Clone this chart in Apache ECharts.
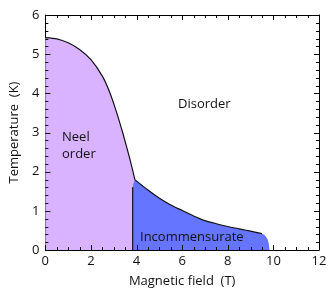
<!DOCTYPE html>
<html><head><meta charset="utf-8">
<script src="https://cdn.jsdelivr.net/npm/echarts@6/dist/echarts.min.js"></script>
<style>html,body{margin:0;padding:0;background:#fff}#c{width:331px;height:295px}</style>
</head><body><div id="c"></div>
<script>
// Neel order phase boundary (Magnetic field T, Temperature K)
const neelX = [0, 0.5, 1.0, 1.5, 2.0, 2.5, 2.8, 3.1, 3.4, 3.7, 3.93];
const neelT = [5.42, 5.39, 5.29, 5.12, 4.86, 4.44, 4.06, 3.56, 2.98, 2.34, 1.79];
// Incommensurate phase upper boundary
const incX = [3.93, 4.5, 5.0, 5.5, 6.0, 6.5, 7.0, 7.5, 8.0, 8.5, 9.0, 9.5];
const incT = [1.79, 1.53, 1.32, 1.15, 1.01, 0.87, 0.75, 0.67, 0.60, 0.54, 0.48, 0.42];
// rounded end of the incommensurate region
const cornerX = [9.5, 9.65, 9.75, 9.8, 9.83];
const cornerT = [0.42, 0.36, 0.27, 0.15, 0];
// vertical boundary Neel / incommensurate
const wallX = [3.83, 3.83];
const wallT = [0, 1.6];
// tick values (major and minor) for the framed axes
const xTicks = [0, 2, 4, 6, 8, 10, 12];
const yTicks = [0, 1, 2, 3, 4, 5, 6];
const xMinor = [0,0.5,1,1.5,2,2.5,3,3.5,4,4.5,5,5.5,6,6.5,7,7.5,8,8.5,9,9.5,10,10.5,11,11.5,12];
const yMinor = [0,0.2,0.4,0.6,0.8,1,1.2,1.4,1.6,1.8,2,2.2,2.4,2.6,2.8,3,3.2,3.4,3.6,3.8,4,4.2,4.4,4.6,4.8,5,5.2,5.4,5.6,5.8,6];

const zip = (a, b) => a.map((v, i) => [v, b[i]]);
const neelPts = zip(neelX, neelT);
const incPts = zip(incX, incT);
const bluePts = [[wallX[1], wallT[1]]].concat(incPts, zip(cornerX, cornerT).slice(1));

const FONT = 'Open Sans';
const K = '#000000';
const chart = echarts.init(document.getElementById('c'));

function frameAxis(position, max, interval, withLabel, name, nameGap) {
  const ax = {
    type: 'value', position: position, min: 0, max: max, interval: interval,
    axisLine: {show: true, onZero: false, lineStyle: {color: K}},
    axisTick: {show: false},
    minorTick: {show: false},
    splitLine: {show: false},
    axisLabel: withLabel ? {color: '#111', fontFamily: FONT, fontSize: 13,
      margin: (position === 'bottom') ? 5 : 6} : {show: false}
  };
  if (name) {
    ax.name = name; ax.nameLocation = 'middle'; ax.nameGap = nameGap;
    ax.nameTextStyle = {color: '#111', fontFamily: FONT, fontSize: 13};
  }
  return ax;
}

chart.setOption({
  animation: false,
  grid: {left: 43, right: 12, top: 15, bottom: 45},
  xAxis: [
    frameAxis('bottom', 12, 2, true, 'Magnetic field  (T)', 25),
    frameAxis('top', 12, 2, false)
  ],
  yAxis: [
    frameAxis('left', 6, 1, true, 'Temperature  (K)', 23),
    frameAxis('right', 6, 1, false)
  ],
  series: [
    {type: 'line', data: neelPts.concat([[wallX[0], 1.98]]).sort((a,b)=>a[0]-b[0]), showSymbol: false, smooth: 0.2,
      lineStyle: {width: 0}, areaStyle: {color: '#d9b3ff', opacity: 1}, z: 1},
    {type: 'line', data: bluePts, showSymbol: false, smooth: 0.2,
      lineStyle: {width: 0}, areaStyle: {color: '#6675ff', opacity: 1}, z: 1},
    {type: 'line', data: neelPts, showSymbol: false, smooth: 0.2,
      lineStyle: {color: '#111', width: 1.2}, z: 1},
    {type: 'line', data: incPts, showSymbol: false, smooth: 0.2,
      lineStyle: {color: '#111', width: 1.2}, z: 1},
    {type: 'line', data: zip(wallX, wallT), showSymbol: false,
      lineStyle: {color: '#111', width: 1.2}, z: 1},
    {type: 'custom', coordinateSystem: 'cartesian2d', xAxisIndex: 0, yAxisIndex: 0,
      data: [[0, 0]], clip: false, silent: true, z: 10,
      renderItem: function (params, api) {
        const cs = params.coordSys;
        const L = cs.x, T = cs.y, R = cs.x + cs.width, B = cs.y + cs.height;
        const children = [];
        const seg = (x1, y1, x2, y2) => children.push({type: 'line',
          shape: {x1: x1, y1: y1, x2: x2, y2: y2}, style: {stroke: K, lineWidth: 1}});
        xMinor.forEach(v => {
          const px = Math.round(api.coord([v, 0])[0]) + 0.5;
          const len = xTicks.includes(v) ? 5 : 3;
          seg(px, B, px, B - len);
          seg(px, T, px, T + len);
        });
        yMinor.forEach(v => {
          const py = Math.round(api.coord([0, v])[1]) + 0.5;
          const len = yTicks.includes(v) ? 5 : 3;
          seg(L, py, L + len, py);
          seg(R, py, R - len, py);
        });
        return {type: 'group', children: children};
      }}
  ],
  graphic: [
    {type: 'text', z: 100, left: 62, top: 129, style: {text: 'Neel\norder', fontFamily: FONT, fontSize: 13, fill: '#111', lineHeight: 17}},
    {type: 'text', z: 100, left: 178, top: 98, style: {text: 'Disorder', fontFamily: FONT, fontSize: 13, fill: '#111'}},
    {type: 'text', z: 100, left: 140, top: 231, style: {text: 'Incommensurate', fontFamily: FONT, fontSize: 13, fill: '#111'}}
  ]
});
</script></body></html>
